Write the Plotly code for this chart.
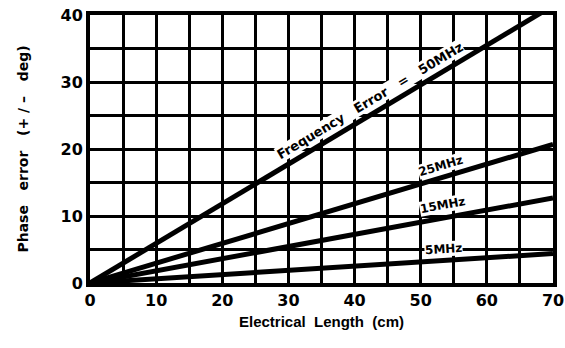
import plotly.graph_objects as go

# Electrical length (cm) at the two ends of each straight line
length_cm = [0, 70]
# Phase error (+/- deg) at those lengths, one list per frequency error
phase_50mhz = [0, 41.4]
phase_25mhz = [0, 20.7]
phase_15mhz = [0, 12.7]
phase_5mhz = [0, 4.4]

x_ticks = list(range(0, 75, 5))
x_tick_text = [str(v) if v % 10 == 0 else "" for v in x_ticks]
y_ticks = list(range(0, 45, 5))
y_tick_text = [str(v) if v % 10 == 0 else "" for v in y_ticks]

SP = "\u00a0"  # non-breaking space keeps the wide word gaps

# label text, position (x, y) and text angle for each line
labels = [
    (f"Frequency{SP*3}Error{SP*3}={SP*3}50MHz", 42.4, 27.2, -30.9),
    ("25MHz", 53.0, 17.4, -16.6),
    ("15MHz", 53.4, 11.6, -10.4),
    ("5MHz", 53.5, 5.1, -3.6),
]

FONT = "DejaVu Sans"

fig = go.Figure()
for ys in (phase_50mhz, phase_25mhz, phase_15mhz, phase_5mhz):
    fig.add_trace(go.Scatter(
        x=length_cm, y=ys, mode="lines",
        line=dict(color="black", width=5),
        showlegend=False, hoverinfo="skip",
    ))

for i, (text, lx, ly, ang) in enumerate(labels):
    fig.add_annotation(
        x=lx, y=ly, text=text, showarrow=False, textangle=ang,
        font=dict(family=FONT, size=13 if i == 0 else 12, color="black", weight="bold"),
        bgcolor="white", borderpad=0,
    )

axis_common = dict(
    showgrid=True, gridcolor="black", gridwidth=3,
    showline=True, linecolor="black", linewidth=4, mirror=True,
    zeroline=False, ticks="", automargin=False,
    tickfont=dict(family=FONT, size=16, color="black", weight="bold"),
)

fig.update_xaxes(
    range=[0, 70], tickmode="array", tickvals=x_ticks, ticktext=x_tick_text,
    title=dict(text=f"Electrical{SP*2}Length{SP*2}(cm)", standoff=8,
               font=dict(family="Liberation Sans", size=15, color="black", weight="bold")),
    **axis_common,
)
fig.update_yaxes(
    range=[0, 40], tickmode="array", tickvals=y_ticks, ticktext=y_tick_text,
    title=dict(text=f"Phase{SP*3}error{SP*3}(+{SP}/{SP}\u2013{SP*3}deg)", standoff=30,
               font=dict(family=FONT, size=14, color="black", weight="bold")),
    **axis_common,
)

fig.update_layout(
    width=565, height=348,
    margin=dict(l=90, r=12, t=15, b=65),
    paper_bgcolor="white", plot_bgcolor="white",
)

fig.write_html("out.html")
